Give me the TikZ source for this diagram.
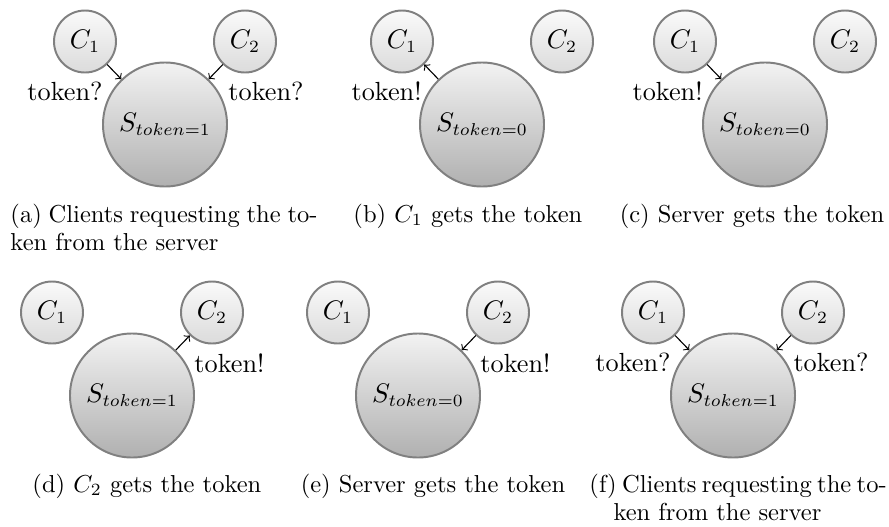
\documentclass[tikz,border=0pt]{standalone}
\newcommand\tokfont{\fontsize{10.7}{12.8}\selectfont}
\newcommand\capfont{\fontsize{10}{12}\selectfont}
\begin{document}
\begin{tikzpicture}[x=0.408pt,y=-0.408pt,
  client/.style={circle,draw=gray,line width=0.8pt,top color=gray!4,bottom color=gray!28,
    minimum size=25.3pt,inner sep=0pt,font=\tokfont},
  server/.style={circle,draw=gray,line width=0.8pt,top color=gray!10,bottom color=gray!62,
    minimum size=50.6pt,inner sep=0pt,font=\tokfont},
  msg/.style={inner sep=0pt,font=\tokfont},
  link/.style={->,line width=0.45pt},
  captext/.style={inner sep=0pt,font=\capfont}]
\useasboundingbox (0,0) rectangle (889,526);

% (a) both clients ask for the token
\node[server] (as) at (165,124.5) {$S_{token=1}$};
\node[client] (ac1) at (85,41.5) {$C_1$};
\node[client] (ac2) at (245,41.5) {$C_2$};
\node[msg,anchor=base east] (am1) at (103,100) {token?};
\node[msg,anchor=base west] (am2) at (228,100) {token?};
\draw[link] (ac1) -- (as);
\draw[link] (ac2) -- (as);

% (b) server hands the token to C1
\node[server] (bs) at (482,124.5) {$S_{token=0}$};
\node[client] (bc1) at (402,41.5) {$C_1$};
\node[client] (bc2) at (562,41.5) {$C_2$};
\node[msg,anchor=base east] (bm1) at (422,100) {token!};
\draw[link] (bs) -- (bc1);

% (c) C1 returns the token
\node[server] (cs) at (765,124.5) {$S_{token=0}$};
\node[client] (cc1) at (685,41.5) {$C_1$};
\node[client] (cc2) at (845,41.5) {$C_2$};
\node[msg,anchor=base east] (cm1) at (703,100) {token!};
\draw[link] (cc1) -- (cs);

% (d) server hands the token to C2
\node[server] (ds) at (132,395.5) {$S_{token=1}$};
\node[client] (dc1) at (52,312.5) {$C_1$};
\node[client] (dc2) at (212,312.5) {$C_2$};
\node[msg,anchor=base west] (dm2) at (194,372) {token!};
\draw[link] (ds) -- (dc2);

% (e) C2 returns the token
\node[server] (es) at (418,395.5) {$S_{token=0}$};
\node[client] (ec1) at (338,312.5) {$C_1$};
\node[client] (ec2) at (498,312.5) {$C_2$};
\node[msg,anchor=base west] (em2) at (480,372) {token!};
\draw[link] (ec2) -- (es);

% (f) both clients ask again
\node[server] (fs) at (733,395.5) {$S_{token=1}$};
\node[client] (fc1) at (653,312.5) {$C_1$};
\node[client] (fc2) at (813,312.5) {$C_2$};
\node[msg,anchor=base east] (fm1) at (671,371) {token?};
\node[msg,anchor=base west] (fm2) at (793,371) {token?};
\draw[link] (fc1) -- (fs);
\draw[link] (fc2) -- (fs);

% captions (justified first lines are set to the measured line width)
\node[captext,anchor=base west] (capa1) at (10,222) {\hbox to 125.3pt{(a) Clients requesting the to-}};
\node[captext,anchor=base west] (capa2) at (10,250) {ken from the server};
\node[captext,anchor=base west] (capb) at (353,222) {(b) $C_1$ gets the token};
\node[captext,anchor=base] (capc) at (752,222) {(c) Server gets the token};
\node[captext,anchor=base west] (capd) at (32,492) {(d) $C_2$ gets the token};
\node[captext,anchor=base] (cape) at (433,492) {(e) Server gets the token};
\node[captext,anchor=base west] (capf1) at (589,492) {\hbox to 120pt{(f) Clients requesting the to-}};
\node[captext,anchor=base west] (capf2) at (613,520) {ken from the server};
\end{tikzpicture}
\end{document}
